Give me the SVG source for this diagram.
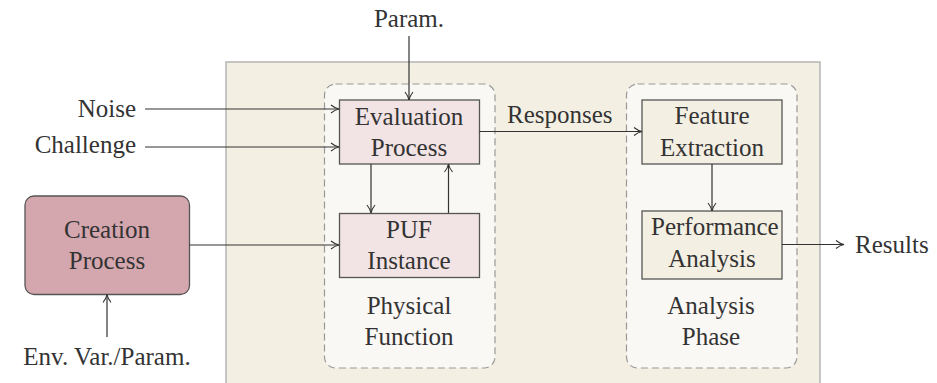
<svg xmlns="http://www.w3.org/2000/svg" width="937" height="383" viewBox="0 0 937 383">
<defs>
<marker id="arr" viewBox="0 0 10 10" refX="9" refY="5" markerWidth="10" markerHeight="10" markerUnits="userSpaceOnUse" orient="auto">
<path d="M1,1 Q5,4.2 9,5 Q5,5.8 1,9" fill="none" stroke="#333" stroke-width="1.1"/>
</marker>
</defs>
<style>
text{font-family:'Liberation Serif','DejaVu Serif',serif;font-size:25px;fill:#333;}
.c{text-anchor:middle;}
.e{text-anchor:end;}
.box{stroke:#555;stroke-width:1.3;}
.pink{fill:#f2e3e4;}
.tan{fill:#f3efe3;}
.dash{fill:#f9f8f4;stroke:#999;stroke-width:1.2;stroke-dasharray:7,4;}
.ln{fill:none;stroke:#333;stroke-width:1.2;marker-end:url(#arr);}
</style>
<rect width="937" height="383" fill="#fff"/>
<g id="background">
<rect x="226" y="62" width="594" height="330" fill="#f3efe3" stroke="#b5b5b5" stroke-width="1.5"/>
</g>
<g id="physical-function" font-family="Liberation Serif, serif">
<rect class="dash" x="324.5" y="84" width="170.5" height="284" rx="11"/>
<text class="c" x="409" y="314">Physical</text>
<text class="c" x="409" y="345">Function</text>
</g>
<g id="analysis-phase">
<rect class="dash" x="626.5" y="84" width="170.5" height="284" rx="11"/>
<text class="c" x="711" y="314">Analysis</text>
<text class="c" x="711" y="345">Phase</text>
</g>
<g id="evaluation-process">
<rect class="box pink" x="339.5" y="100" width="140" height="64"/>
<text class="c" x="409" y="125">Evaluation</text>
<text class="c" x="409" y="156">Process</text>
</g>
<g id="puf-instance">
<rect class="box pink" x="339.5" y="213.5" width="140" height="64"/>
<text class="c" x="409" y="238">PUF</text>
<text class="c" x="409" y="269">Instance</text>
</g>
<g id="feature-extraction">
<rect class="box tan" x="642" y="100" width="140" height="64"/>
<text class="c" x="712" y="124">Feature</text>
<text class="c" x="712" y="156">Extraction</text>
</g>
<g id="performance-analysis">
<rect class="box tan" x="642" y="211" width="140" height="68"/>
<text x="651" y="235">Performance</text>
<text class="c" x="712" y="267">Analysis</text>
</g>
<g id="creation-process">
<rect class="box" x="25" y="196" width="164.5" height="98.5" rx="9" fill="#d4a6ae"/>
<text class="c" x="107" y="238">Creation</text>
<text class="c" x="107" y="269">Process</text>
</g>
<g id="labels">
<text class="c" x="409" y="27">Param.</text>
<text class="e" x="136" y="117">Noise</text>
<text class="e" x="136" y="153">Challenge</text>
<text class="c" x="107" y="365">Env. Var./Param.</text>
<text x="507" y="123">Responses</text>
<text x="855" y="253">Results</text>
</g>
<g id="connectors">
<path class="ln" d="M409,36 V100"/>
<path class="ln" d="M145,109 H339"/>
<path class="ln" d="M145,147 H339"/>
<path class="ln" d="M371,164 V213"/>
<path class="ln" d="M448.5,213 V164"/>
<path class="ln" d="M189.5,245 H339"/>
<path class="ln" d="M479.5,131.5 H642"/>
<path class="ln" d="M712,164 V211"/>
<path class="ln" d="M782,244.5 H844"/>
<path class="ln" d="M107,337 V294.5"/>
</g>
</svg>
